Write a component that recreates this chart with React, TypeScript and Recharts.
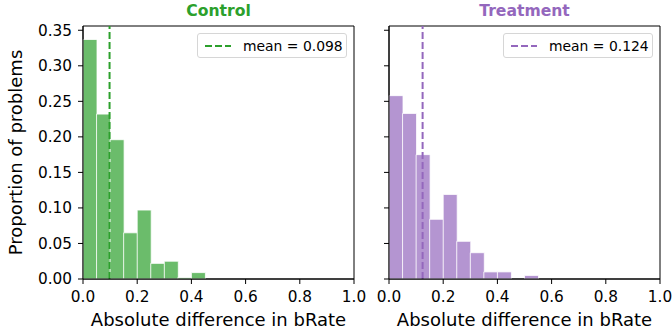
import { ComposedChart, Bar, XAxis, YAxis, ReferenceLine, ReferenceArea } from "recharts";

// histogram bins of width 0.05 over [0, 1]
const binLabels = [
  "0.00", "0.05", "0.10", "0.15", "0.20", "0.25", "0.30", "0.35", "0.40", "0.45",
  "0.50", "0.55", "0.60", "0.65", "0.70", "0.75", "0.80", "0.85", "0.90", "0.95",
];
const binStarts = [
  0, 0.05, 0.1, 0.15, 0.2, 0.25, 0.3, 0.35, 0.4, 0.45,
  0.5, 0.55, 0.6, 0.65, 0.7, 0.75, 0.8, 0.85, 0.9, 0.95,
];
const controlValues = [
  0.337, 0.232, 0.196, 0.065, 0.097, 0.022, 0.025, 0.002, 0.009, 0,
  0, 0, 0, 0, 0, 0, 0, 0, 0, 0,
];
const treatmentValues = [
  0.258, 0.233, 0.175, 0.084, 0.119, 0.053, 0.037, 0.010, 0.010, 0,
  0.005, 0, 0, 0, 0, 0, 0, 0, 0, 0,
];
const controlMean = 0.098;
const treatmentMean = 0.124;
const xTicks = [0, 0.2, 0.4, 0.6, 0.8, 1.0];
const yTicks = [0, 0.05, 0.1, 0.15, 0.2, 0.25, 0.3, 0.35];
const yMax = 0.356;

const FONT = "'DejaVu Sans', sans-serif";
const tickStyle = { fontSize: 15.3, fill: "#000", fontFamily: FONT };

function Panel({
  values, mean, barColor, lineColor, title, left, width, rightMargin, showYLabels,
}: {
  values: number[]; mean: number; barColor: string; lineColor: string;
  title: string; left: number; width: number; rightMargin: number; showYLabels: boolean;
}) {
  const data = binLabels.map((b, i) => ({ bin: b, x: binStarts[i] + 0.025, v: values[i] }));
  const yAxisWidth = showYLabels ? 83 : 24;
  const plotLeft = left + yAxisWidth;
  const plotRight = left + width - rightMargin;
  return (
    <div style={{ position: "absolute", left, top: 0, width, height: 331 }}>
      <ComposedChart
        width={width}
        height={331}
        data={data}
        barCategoryGap={0}
        barGap={0}
        margin={{ top: 26, right: rightMargin, bottom: 0, left: 0 }}
      >
        <XAxis
          xAxisId="num"
          dataKey="x"
          type="number"
          domain={[0, 1]}
          ticks={xTicks}
          allowDataOverflow
          height={52}
          tickSize={5}
          tickMargin={7}
          stroke="#000"
          tick={tickStyle}
          tickFormatter={(v: number) => v.toFixed(1)}
          label={{
            value: "Absolute difference in bRate",
            position: "insideBottom",
            offset: 5,
            style: { fontSize: 18, fill: "#000", fontFamily: FONT },
          }}
        />
        <XAxis xAxisId="bins" dataKey="bin" type="category" hide height={0} />
        <YAxis
          type="number"
          domain={[0, yMax]}
          ticks={yTicks}
          allowDataOverflow
          width={yAxisWidth}
          tickSize={5}
          tickMargin={6}
          stroke="#000"
          tick={tickStyle}
          tickFormatter={(v: number) => (showYLabels ? v.toFixed(2) : "")}
          label={
            showYLabels
              ? {
                  value: "Proportion of problems",
                  angle: -90,
                  position: "insideLeft",
                  offset: 16,
                  style: { fontSize: 18, fill: "#000", fontFamily: FONT, textAnchor: "middle" },
                }
              : undefined
          }
        />
        <Bar
          xAxisId="bins"
          dataKey="v"
          fill={barColor}
          stroke="#ffffff"
          strokeWidth={0.8}
          isAnimationActive={false}
        />
        <ReferenceLine
          xAxisId="num"
          x={mean}
          stroke={lineColor}
          strokeWidth={2}
          strokeDasharray="7 3"
        />
        <ReferenceArea
          xAxisId="num"
          x1={0}
          x2={1}
          y1={0}
          y2={yMax}
          fill="none"
          stroke="#000"
          strokeWidth={1}
          ifOverflow="visible"
        />
      </ComposedChart>
      <div
        style={{
          position: "absolute",
          left: yAxisWidth,
          width: plotRight - plotLeft,
          top: 2,
          textAlign: "center",
          fontFamily: FONT,
          fontWeight: "bold",
          fontSize: 15.6,
          color: lineColor,
        }}
      >
        {title}
      </div>
      <div
        style={{
          position: "absolute",
          left: plotRight - left - 157,
          top: 33,
          width: 150,
          height: 25,
          boxSizing: "border-box",
          border: "1px solid #d6d6d6",
          borderRadius: 3,
          background: "rgba(255,255,255,0.8)",
          display: "flex",
          alignItems: "center",
          fontFamily: FONT,
          fontSize: 13.9,
          color: "#000",
        }}
      >
        <svg width={45} height={10} style={{ flex: "none" }}>
          <line x1={7} y1={5} x2={33} y2={5} stroke={lineColor} strokeWidth={2} strokeDasharray="7 3" />
        </svg>
        <span>mean = {mean.toFixed(3)}</span>
      </div>
    </div>
  );
}

export default function App() {
  return (
    <div style={{ position: "absolute", left: 0, top: 0, width: 672, height: 331, background: "#fff" }}>
      <Panel
        values={controlValues}
        mean={controlMean}
        barColor="#6bbc6b"
        lineColor="#2ca02c"
        title="Control"
        left={0}
        width={372}
        rightMargin={18}
        showYLabels
      />
      <Panel
        values={treatmentValues}
        mean={treatmentMean}
        barColor="#b495d1"
        lineColor="#9467bd"
        title="Treatment"
        left={365}
        width={307}
        rightMargin={12}
        showYLabels={false}
      />
    </div>
  );
}
